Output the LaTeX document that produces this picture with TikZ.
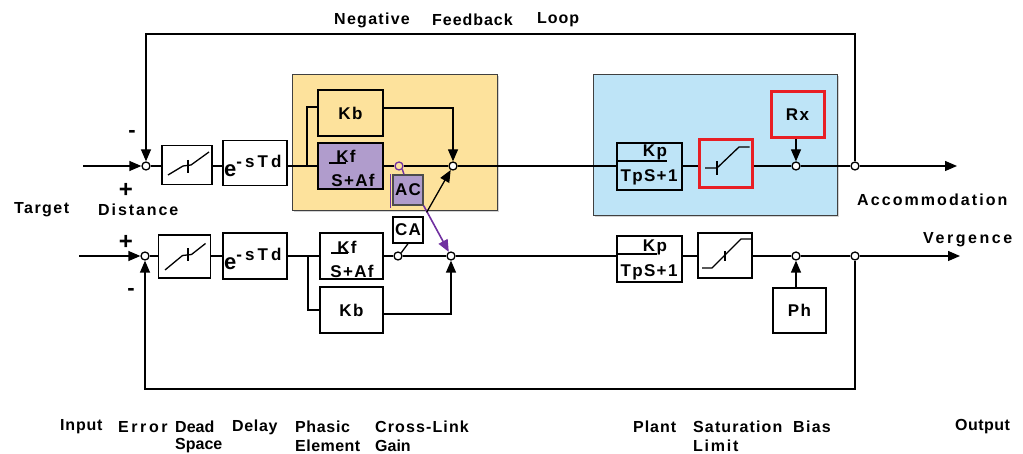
\documentclass[tikz,border=0pt]{standalone}
\usepackage{fontspec}
\setmainfont{Liberation Sans}
\newfontfamily\lbl{Liberation Sans}
\newfontfamily\lblb{Liberation Sans}[LetterSpace=8]
\newfontfamily\lblw{Liberation Sans}[LetterSpace=18]
\usetikzlibrary{arrows.meta,shadows,calc}
\definecolor{yel}{RGB}{253,226,156}
\definecolor{blu}{RGB}{190,228,247}
\definecolor{pur}{RGB}{176,156,204}
\definecolor{purl}{RGB}{112,48,160}
\definecolor{rd}{RGB}{232,30,36}
\begin{document}
\begin{tikzpicture}[x=1pt,y=-1pt,
  ln/.style={line width=1.3pt},
  arr/.style={line width=1.3pt,-{Triangle[length=12pt,width=10pt]}},
  parr/.style={line width=1.6pt,draw=purl,-{Triangle[length=12pt,width=10pt]}},
  bx/.style 2 args={draw,line width=1.3pt,inner sep=0pt,minimum width=#1pt,minimum height=#2pt,font=\lblb\bfseries\fontsize{17}{19}\selectfont},
  jn/.style={circle,draw,line width=1.3pt,fill=white,minimum size=8pt,inner sep=0pt},
  txt/.style={font=\lblb\bfseries\fontsize{17}{19}\selectfont,inner sep=0pt},
  lab/.style={inner sep=0pt,anchor=west,font=\lbl\bfseries\fontsize{16}{18}\selectfont\addfontfeature{LetterSpace=#1}},
  lab/.default=6,
  redbx/.style={draw=rd,line width=3pt},
  panel/.style={draw=black!75,line width=0.9pt,drop shadow={shadow xshift=2pt,shadow yshift=-2pt,opacity=0.35}},
  dly/.style={font=\bfseries\fontsize{22}{22}\selectfont,inner sep=0pt,anchor=base west},
]
\useasboundingbox (0,0) rectangle (1023,454);

% coloured panels
\node[panel,fill=yel,minimum width=205pt,minimum height=136pt] (ybox) at (394.5,142) {};
\node[panel,fill=blu,minimum width=244pt,minimum height=141pt] (bbox) at (715,144.5) {};

% ---------- top lane (accommodation) ----------
\coordinate (in1) at (83,166);
\node[jn] (js1) at (146,166) {};
\node[bx={50}{39}] (dz1) at (187,165) {};
\node[bx={64}{45}] (dl1) at (255,163) {};
\node[dly] (ed1) at (224,177) {e\raisebox{9pt}{\lblw\fontsize{17}{17}\selectfont-sTd}};
\node[bx={65}{46}] (kb1) at (350.5,113) {Kb};
\node[bx={65}{46},fill=pur] (kf1) at (350.5,166) {};
\node[txt] (kft1) at (346,156) {Kf};
\node[txt] (kfb1) at (353,180) {S+Af};
\node[jn,draw=purl,fill=none] (pc1) at (399,166) {};
\node[bx={30}{30},fill=pur,draw=black!70] (ac) at (408,190) {AC};
\node[jn] (j1) at (453,166) {};
\node[bx={65}{47}] (kp1) at (649.5,166.5) {};
\node[txt] (kpt1) at (655,152) {Kp};
\node[txt] (kpb1) at (649,177) {TpS+1};
\node[bx={53}{48},redbx] (sat1) at (725.5,164) {};
\node[bx={53}{46},redbx] (rx) at (797.5,115) {Rx};
\node[jn] (jb1) at (796,166) {};
\node[jn] (jo1) at (855,166) {};
\coordinate (out1) at (957,166);
\coordinate (fbt) at (500,34);

% ---------- bottom lane (vergence) ----------
\coordinate (in2) at (79,256);
\node[jn] (js2) at (145,256) {};
\node[bx={52}{43}] (dz2) at (184.5,256.5) {};
\node[bx={64}{46}] (dl2) at (255,256) {};
\node[dly] (ed2) at (224,270) {e\raisebox{9pt}{\lblw\fontsize{17}{17}\selectfont-sTd}};
\node[bx={63}{46}] (kf2) at (351.5,256) {};
\node[txt] (kft2) at (347,247) {Kf};
\node[txt] (kfb2) at (352,271) {S+Af};
\node[bx={63}{46}] (kb2) at (351.5,310) {Kb};
\node[jn] (pc2) at (398,256) {};
\node[bx={30}{26}] (ca) at (408,230) {CA};
\node[jn] (j2) at (451,256) {};
\node[bx={65}{46}] (kp2) at (649.5,259) {};
\node[txt] (kpt2) at (655,247) {Kp};
\node[txt] (kpb2) at (649,272) {TpS+1};
\node[bx={54}{45}] (sat2) at (725,255.5) {};
\node[jn] (jb2) at (796,256) {};
\node[bx={53}{45}] (ph) at (799.5,310.5) {Ph};
\node[jn] (jo2) at (855,256) {};
\coordinate (out2) at (960,256);
\coordinate (fbb) at (500,389);

% ---------- box internals ----------
\draw[ln] (329,163) -- (346,163);
\draw[ln] (331,253) -- (348,253);
\draw[ln] (617,161) -- (667,161);
\draw[ln] (617,254) -- (657,254);
% dead zones
\draw[ln] ($(dz1)+(-19,10)$) -- ($(dz1)+(-4,1)$) -- ($(dz1)+(4,0)$) -- ($(dz1)+(22,-13)$);
\draw[ln] ($(dz1)+(1,-5)$) -- ($(dz1)+(1,8)$);
\draw[ln] ($(dz2)+(-19.5,13.5)$) -- ($(dz2)+(-2,-1)$) -- ($(dz2)+(7,-2)$) -- ($(dz2)+(21,-13)$);
\draw[ln] ($(dz2)+(3.5,-8)$) -- ($(dz2)+(3.5,5)$);
% saturation limits
\draw[ln] ($(sat1)+(-20.5,4)$) -- ($(sat1)+(-8.5,4)$) -- ($(sat1)+(13.5,-17)$) -- ($(sat1)+(24,-17)$);
\draw[ln] ($(sat1)+(-8.5,-3)$) -- ($(sat1)+(-8.5,11)$);
\draw[ln] ($(sat2)+(-23,12.5)$) -- ($(sat2)+(-13,12.5)$) -- ($(sat2)+(16,-16.5)$) -- ($(sat2)+(27,-16.5)$);
\draw[ln] ($(sat2)+(0,-4.5)$) -- ($(sat2)+(0,6)$);

% ---------- connectors top ----------
\draw[arr] (in1) -- (js1);
\draw[ln] (js1) -- (dz1.west |- js1);
\draw[ln] (dz1.east |- js1) -- (dl1.west |- js1);
\draw[ln] (dl1.east |- kf1.west) -- (kf1.west);
\coordinate (br1) at (307,166);
\draw[ln] (br1) |- ([yshift=6pt]kb1.west);
\draw[arr] ([yshift=5pt]kb1.east) -| (j1.north);
\draw[ln] (kf1) -- (pc1);
\draw[ln] (pc1) -- (j1);
\draw[ln] (j1) -- (kp1.west |- j1);
\draw[ln] (kp1.east |- j1) -- (sat1.west |- j1);
\draw[ln] (sat1.east |- jb1) -- (jb1);
\draw[ln] (jb1) -- (jo1);
\draw[arr] (jo1) -- (out1);
\draw[arr] (rx.south -| jb1) -- (jb1);
\draw[arr] (jo1.north) |- (fbt) -| (js1.north);
% cross links
\draw[line width=1.4pt,draw=purl] (pc1.south east) -- ([xshift=-4pt]ac.north);
\draw[line width=1.4pt,draw=purl] ([xshift=-2pt]ac.north west) -- ([xshift=-2pt,yshift=-2pt]ac.south west);
\draw[parr] (ac.south east) -- (j2);
\draw[arr] ([xshift=3pt,yshift=4pt]ca.north east) -- (j1);

% ---------- connectors bottom ----------
\draw[arr] (in2) -- (js2);
\draw[ln] (js2) -- (dz2.west |- js2);
\draw[ln] (dz2.east |- js2) -- (dl2.west |- js2);
\draw[ln] (dl2) -- (kf2);
\coordinate (br2) at (308,256);
\draw[ln] (br2) |- (kb2.west);
\draw[arr] ([yshift=-4pt]kb2.east) -| (j2.south);
\draw[ln] (kf2) -- (pc2);
\draw[ln] (pc2) -- (j2);
\draw[ln] (pc2.north east) -- (ca.south);
\draw[ln] (j2) -- (kp2.west |- j2);
\draw[ln] (kp2.east |- j2) -- (sat2.west |- j2);
\draw[ln] (sat2.east |- jb2) -- (jb2);
\draw[ln] (jb2) -- (jo2);
\draw[arr] (jo2) -- (out2);
\draw[arr] (ph.north -| jb2) -- (jb2);
\draw[arr] (jo2.south) |- (fbb) -| (js2.south);

% ---------- labels ----------
\node[lab=8] (n1) at (334,20) {Negative};
\node[lab=6] (n2) at (432,20) {Feedback};
\node[lab=6] (n3) at (537,20) {Loop};
\node[inner sep=0pt,font=\bfseries\fontsize{22}{22}\selectfont] (m1) at (132,134) {-};
\node[inner sep=0pt,font=\bfseries\fontsize{24}{24}\selectfont] (p1) at (126,190) {+};
\node[inner sep=0pt,font=\bfseries\fontsize{24}{24}\selectfont] (p2) at (126,242) {+};
\node[inner sep=0pt,font=\bfseries\fontsize{22}{22}\selectfont] (m2) at (131,292) {-};
\node[lab=9] (t1) at (14,210) {Target};
\node[lab=12] (t2) at (98,210) {Distance};
\node[lab=13] (acc) at (857,200) {Accommodation};
\node[lab=16] (ver) at (923,240) {Vergence};
\node[lab=5] (b1) at (60,427) {Input};
\node[lab=16] (b2) at (118,427) {Error};
\node[lab=0] (b3) at (175,427) {Dead};
\node[lab=0] (b3b) at (175,446) {Space};
\node[lab=4] (b4) at (232,427) {Delay};
\node[lab=4] (b5) at (295,427) {Phasic};
\node[lab=3] (b5b) at (295,446) {Element};
\node[lab=7] (b6) at (375,427) {Cross-Link};
\node[lab=0] (b6b) at (375,446) {Gain};
\node[lab=6] (b7) at (633,427) {Plant};
\node[lab=7] (b8) at (693,427) {Saturation};
\node[lab=11] (b8b) at (693,446) {Limit};
\node[lab=8] (b9) at (793,427) {Bias};
\node[lab=3] (b10) at (955,427) {Output};
\end{tikzpicture}
\end{document}
